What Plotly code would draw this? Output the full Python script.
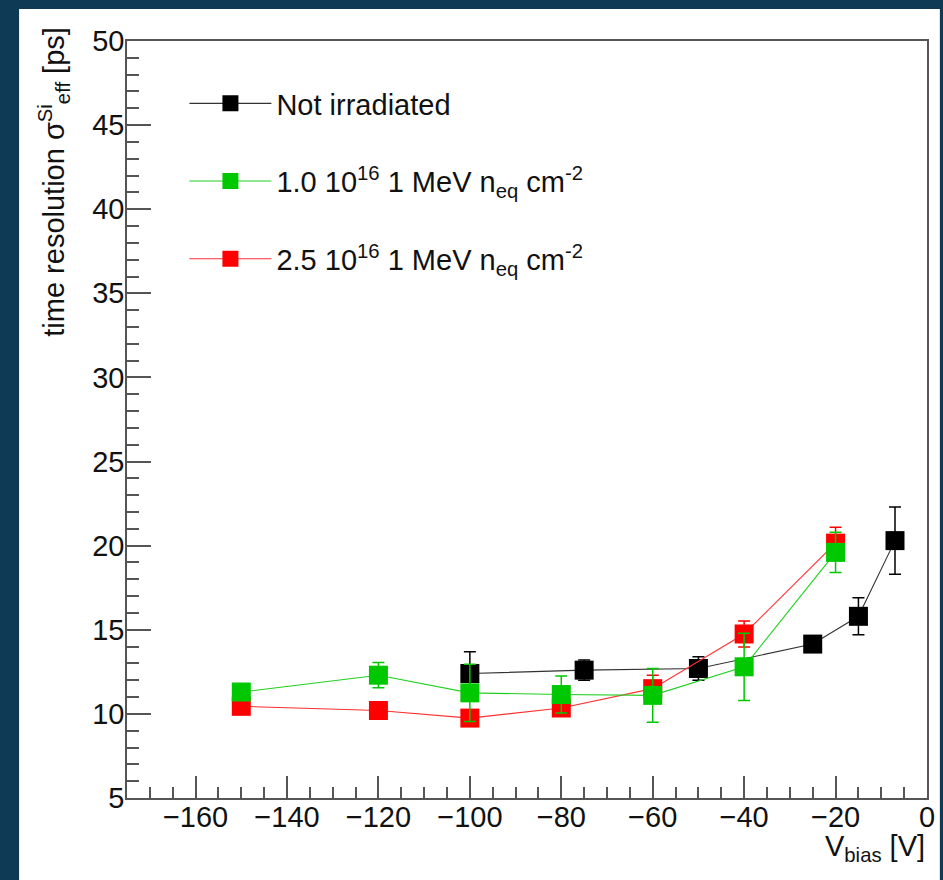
import plotly.graph_objects as go

# ---- data ----
names = ["Not irradiated",
         "1.0 10<sup>16</sup> 1 MeV n<sub>eq</sub> cm<sup>-2</sup>",
         "2.5 10<sup>16</sup> 1 MeV n<sub>eq</sub> cm<sup>-2</sup>"]

x_black = [-100, -75, -50, -25, -15, -7]
y_black = [12.4, 12.6, 12.7, 14.15, 15.8, 20.3]
e_black = [1.3, 0.6, 0.7, 0.4, 1.1, 2.0]

x_green = [-150, -120, -100, -80, -60, -40, -20]
y_green = [11.3, 12.3, 11.25, 11.15, 11.1, 12.8, 19.6]
e_green = [0.4, 0.75, 1.7, 1.1, 1.6, 2.0, 1.2]

x_red = [-150, -120, -100, -80, -60, -40, -20]
y_red = [10.45, 10.2, 9.75, 10.35, 11.5, 14.75, 20.15]
e_red = [0.3, 0.3, 0.4, 0.4, 0.8, 0.77, 0.95]

x_ticks = [-160, -140, -120, -100, -80, -60, -40, -20, 0]
x_ticklabels = ["\u2212160", "\u2212140", "\u2212120", "\u2212100", "\u221280",
                "\u221260", "\u221240", "\u221220", "0"]
y_ticks = [5, 10, 15, 20, 25, 30, 35, 40, 45, 50]

FONT = "Liberation Sans, Arial, sans-serif"
BLACK = "#000000"
GREEN = "#00c800"
RED = "#ff0000"
BG = "#0f3a56"

fig = go.Figure()


def add_series(x, y, e, name, color, linecolor, rank):
    fig.add_trace(go.Scatter(
        x=x, y=y, name=name, mode="lines+markers",
        line=dict(color=linecolor, width=1.1),
        marker=dict(symbol="square", size=19, color=color,
                    line=dict(width=0)),
        error_y=dict(type="data", array=e, visible=True, color=color,
                     thickness=1.5, width=6),
        legendrank=rank, legendgroup=name,
    ))


add_series(x_black, y_black, e_black, names[0], BLACK, "#333333", 1)
add_series(x_red, y_red, e_red, names[2], RED, "#ff3030", 3)
add_series(x_green, y_green, e_green, names[1], GREEN, "#20d020", 2)

W, H = 943, 880
L, R, T, B = 127, 8, 41, 82
pw, ph = W - L - R, H - T - B

# white panel behind the chart
fig.add_shape(type="rect", xref="paper", yref="paper", layer="below",
              x0=(18 - L) / pw, x1=(W + 5 - L) / pw,
              y0=-(B + 5) / ph, y1=(H - B - 9) / ph,
              fillcolor="white", line=dict(width=0))

axis_common = dict(
    showgrid=False, zeroline=False, showline=True, linecolor="#555555",
    linewidth=1.5, mirror=True, ticks="inside", tickcolor="#555555",
    tickwidth=1.5, tickfont=dict(family=FONT, size=29, color="#111111"),
)

fig.update_xaxes(range=[-175, 0], tickvals=x_ticks, ticktext=x_ticklabels,
                 ticklen=22, ticklabelstandoff=-8,
                 minor=dict(dtick=5, tick0=0, ticks="inside", ticklen=11,
                            tickcolor="#555555", tickwidth=1.5),
                 **axis_common)
fig.update_yaxes(range=[5, 50], tickvals=y_ticks, ticklen=24,
                 ticklabelstandoff=-5,
                 minor=dict(dtick=1, tick0=0, ticks="inside", ticklen=12,
                            tickcolor="#555555", tickwidth=1.5),
                 **axis_common)

# axis titles (ROOT style: aligned to the axis ends)
fig.add_annotation(xref="paper", yref="paper",
                   x=(53 - L) / pw, y=(H - B - 182) / ph,
                   text="time resolution \u03c3<sup>Si</sup><sub>eff</sub> [ps]",
                   textangle=-90, showarrow=False,
                   xanchor="center", yanchor="middle",
                   font=dict(family=FONT, size=29, color="#111111"))
fig.add_annotation(xref="paper", yref="paper",
                   x=1.0, y=-(848 - (H - B)) / ph,
                   text="V<sub>bias</sub> [V]", showarrow=False,
                   xanchor="right", yanchor="middle",
                   font=dict(family=FONT, size=29, color="#111111"))

fig.update_layout(
    width=W, height=H,
    margin=dict(l=L, r=R, t=T, b=B),
    paper_bgcolor=BG, plot_bgcolor="white",
    showlegend=True,
    legend=dict(x=(185 - L) / pw, y=(H - B - 78) / ph,
                xanchor="left", yanchor="top",
                bgcolor="rgba(0,0,0,0)", borderwidth=0,
                font=dict(family=FONT, size=29, color="#111111"),
                itemwidth=82, tracegroupgap=37, traceorder="grouped"),
)

fig.write_html(
    "out.html",
    config={"displayModeBar": False},
    post_script="document.body.style.margin='0';"
                "document.body.style.background='" + BG + "';",
)
